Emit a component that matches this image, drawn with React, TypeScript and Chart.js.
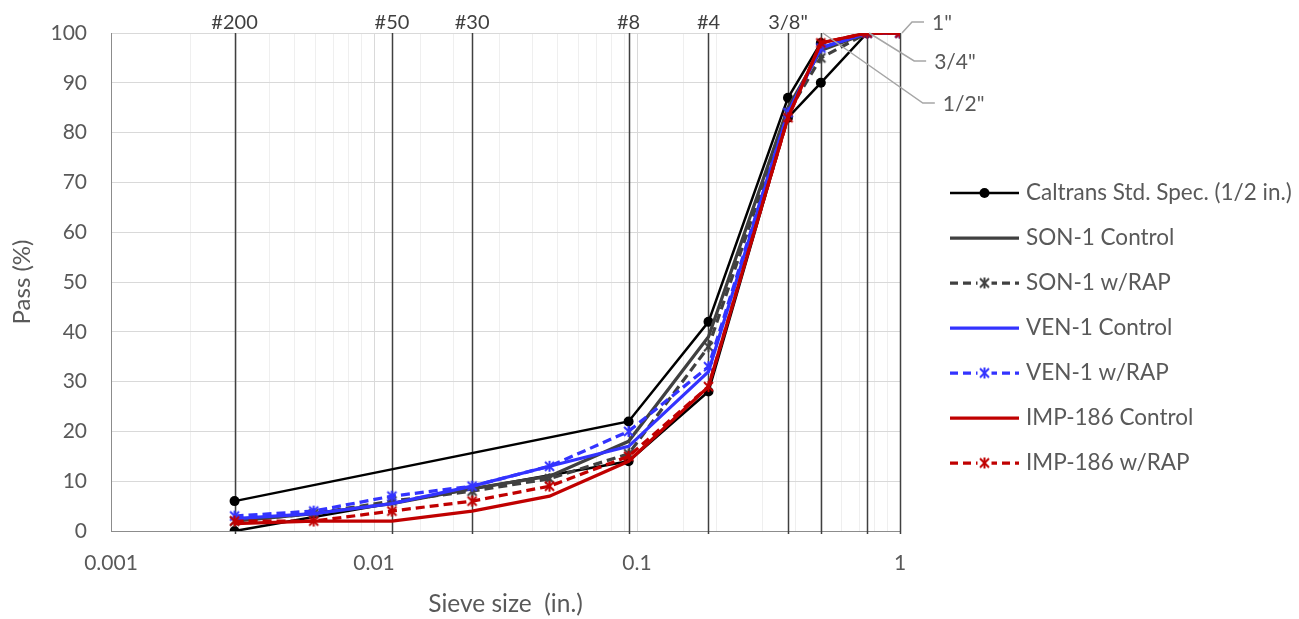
import React, { useEffect, useRef } from 'react';
import { Chart, registerables } from 'chart.js';

Chart.register(...registerables);

// Sieve openings (in.) for the gradation points
const sieveSizes = [0.00295, 0.0059, 0.0117, 0.0236, 0.0465, 0.0929, 0.187, 0.375, 0.5, 0.75, 1];
const sonControl = [2, 3.5, 5.5, 8.5, 11, 18, 39, 85, 96.5, 100, 100];
const sonRap = [2, 3.5, 6, 8, 10.5, 15.5, 37, 84, 95, 100, 100];
const venControl = [2.5, 3.5, 5.5, 9, 13, 17, 32, 84, 97, 100, 100];
const venRap = [3, 4, 7, 9, 13, 20, 33, 84, 97, 100, 100];
const impControl = [1.5, 2, 2, 4, 7, 14, 29, 83, 98, 100, 100];
const impRap = [2, 2, 4, 6, 9, 15, 29, 83, 98, 100, 100];

// Caltrans spec band
const specSizes = [0.00295, 0.0929, 0.187, 0.375, 0.5, 0.75];
const specLower = [0, 14, 28, 83, 90, 100];
const specUpper = [6, 22, 42, 87, 98, 100];

// Reference sieve lines and labels
const refSieves = [0.00295, 0.0117, 0.0236, 0.0929, 0.187, 0.375, 0.5, 0.75, 1];
const refTopLabels = ['#200', '#50', '#30', '#8', '#4', '3/8"', '', '', ''];
const calloutSieves = [1, 0.75, 0.5];
const calloutLabels = ['1"', '3/4"', '1/2"'];

const yTicks = [0, 10, 20, 30, 40, 50, 60, 70, 80, 90, 100];

const FONT = 'Lato, "Open Sans", sans-serif';
const TEXT = '#595959';

function makeStar(color: string): HTMLCanvasElement {
  const c = document.createElement('canvas');
  c.width = 13;
  c.height = 13;
  const g = c.getContext('2d')!;
  g.strokeStyle = color;
  g.lineWidth = 2;
  g.beginPath();
  g.moveTo(2, 2); g.lineTo(11, 11);
  g.moveTo(11, 2); g.lineTo(2, 11);
  g.moveTo(6.5, 1); g.lineTo(6.5, 12);
  g.stroke();
  return c;
}

const isMajor = (v: number) => Math.abs(Math.log10(v) - Math.round(Math.log10(v))) < 1e-6;

export default function App() {
  const ref = useRef<HTMLCanvasElement>(null);
  useEffect(() => {
    const canvas = ref.current!;
    const starGray = makeStar('#404040');
    const starBlue = makeStar('#3333ff');
    const starRed = makeStar('#c00000');
    const pts = (xs: number[], ys: number[]) => xs.map((x, i) => ({ x, y: ys[i] }));

    const series = [
      { label: 'Caltrans Std. Spec. (1/2 in.)', data: pts(specSizes, specUpper), color: '#000000', dash: [], marker: 'circle', width: 2.5, legend: true },
      { label: 'Caltrans lower', data: pts(specSizes, specLower), color: '#000000', dash: [], marker: 'circle', width: 2.5, legend: false },
      { label: 'SON-1 Control', data: pts(sieveSizes, sonControl), color: '#404040', dash: [], marker: null, width: 3.25, legend: true },
      { label: 'SON-1 w/RAP', data: pts(sieveSizes, sonRap), color: '#404040', dash: [9, 5], marker: starGray, width: 3.25, legend: true },
      { label: 'VEN-1 Control', data: pts(sieveSizes, venControl), color: '#3333ff', dash: [], marker: null, width: 3.25, legend: true },
      { label: 'VEN-1 w/RAP', data: pts(sieveSizes, venRap), color: '#3333ff', dash: [9, 5], marker: starBlue, width: 3.25, legend: true },
      { label: 'IMP-186 Control', data: pts(sieveSizes, impControl), color: '#c00000', dash: [], marker: null, width: 3.25, legend: true },
      { label: 'IMP-186 w/RAP', data: pts(sieveSizes, impRap), color: '#c00000', dash: [9, 5], marker: starRed, width: 3.25, legend: true },
    ];

    const datasets = series.map((s, i) => ({
      label: s.label,
      data: s.data,
      borderColor: s.color,
      backgroundColor: s.color,
      borderWidth: s.width,
      borderDash: s.dash,
      pointStyle: s.marker || 'circle',
      pointRadius: s.marker ? (s.marker === 'circle' ? 5 : 6) : 0,
      pointBorderWidth: 0,
      tension: 0,
      order: series.length - i,
    }));

    const overlay = {
      id: 'overlay',
      beforeDatasetsDraw(chart: any) {
        const { ctx, chartArea, scales } = chart;
        const xs = scales.x;
        ctx.save();
        ctx.strokeStyle = '#404040';
        ctx.lineWidth = 1.5;
        refSieves.forEach((v) => {
          const x = Math.round(xs.getPixelForValue(v)) + 0.5;
          ctx.beginPath();
          ctx.moveTo(x, chartArea.top);
          ctx.lineTo(x, chartArea.bottom + 3);
          ctx.stroke();
        });
        ctx.restore();
      },
      afterDraw(chart: any) {
        const { ctx, chartArea, scales } = chart;
        const xs = scales.x;
        const ys = scales.y;
        ctx.save();
        // top sieve labels
        ctx.font = `20px ${FONT}`;
        ctx.fillStyle = '#404040';
        ctx.textAlign = 'center';
        ctx.textBaseline = 'middle';
        refSieves.forEach((v, i) => {
          if (!refTopLabels[i]) return;
          ctx.fillText(refTopLabels[i], xs.getPixelForValue(v), chartArea.top - 10);
        });
        // callouts
        const offsets = [
          { dx: 12, dy: -11, len: 12 },
          { dx: 47, dy: 28, len: 12 },
          { dx: 102, dy: 70, len: 12 },
        ];
        ctx.strokeStyle = '#a6a6a6';
        ctx.lineWidth = 1.5;
        ctx.font = `21px ${FONT}`;
        ctx.fillStyle = TEXT;
        ctx.textAlign = 'left';
        calloutSieves.forEach((v, i) => {
          const px = xs.getPixelForValue(v);
          const py = ys.getPixelForValue(100);
          const o = offsets[i];
          ctx.beginPath();
          ctx.moveTo(px + 2, py);
          ctx.lineTo(px + o.dx, py + o.dy);
          ctx.lineTo(px + o.dx + o.len, py + o.dy);
          ctx.stroke();
          ctx.fillText(calloutLabels[i], px + o.dx + o.len + 8, py + o.dy + 1);
        });
        // legend
        const lx0 = 950, lx1 = 1019, ly0 = 193, step = 45;
        let row = 0;
        series.forEach((s) => {
          if (!s.legend) return;
          const y = ly0 + row * step;
          ctx.strokeStyle = s.color;
          ctx.lineWidth = s.width;
          ctx.setLineDash(s.dash.length ? [8, 5] : []);
          ctx.beginPath();
          ctx.moveTo(lx0, y);
          ctx.lineTo(lx1, y);
          ctx.stroke();
          ctx.setLineDash([]);
          const cx = (lx0 + lx1) / 2;
          if (s.marker === 'circle') {
            ctx.fillStyle = s.color;
            ctx.beginPath();
            ctx.arc(cx, y, 5, 0, Math.PI * 2);
            ctx.fill();
          } else if (s.marker) {
            ctx.fillStyle = '#ffffff';
            ctx.fillRect(cx - 7, y - 4, 14, 8);
            ctx.drawImage(s.marker as HTMLCanvasElement, cx - 6.5, y - 6.5);
          }
          ctx.fillStyle = TEXT;
          ctx.font = `22.5px ${FONT}`;
          ctx.textAlign = 'left';
          ctx.textBaseline = 'middle';
          ctx.fillText(s.label, 1026, y);
          row++;
        });
        ctx.restore();
      },
    };

    const chart = new Chart(canvas, {
      type: 'line',
      data: { datasets } as any,
      options: {
        animation: false,
        responsive: true,
        maintainAspectRatio: false,
        layout: { padding: { top: 33, right: 399, left: 0, bottom: 0 } },
        plugins: { legend: { display: false }, tooltip: { enabled: false } },
        scales: {
          x: {
            type: 'logarithmic',
            min: 0.001,
            max: 1,
            afterFit: (s: any) => { s.height = 88; },
            border: { color: '#8c8c8c', width: 1 },
            grid: {
              drawTicks: false,
              color: (c: any) => (c.tick && isMajor(c.tick.value) ? '#d9d9d9' : '#efefef'),
              lineWidth: 1,
            },
            ticks: {
              autoSkip: false,
              maxRotation: 0,
              padding: 20,
              color: TEXT,
              font: { family: FONT, size: 21 },
              callback: (v: any) => (isMajor(Number(v)) ? String(Number(v)) : ''),
            },
            title: {
              display: true,
              text: 'Sieve size  (in.)',
              color: TEXT,
              font: { family: FONT, size: 24.5 },
              padding: { top: 0, bottom: 0 },
            },
          },
          y: {
            min: 0,
            max: 100,
            afterFit: (s: any) => { s.width = 111; },
            afterBuildTicks: (s: any) => { s.ticks = yTicks.map((v) => ({ value: v })); },
            border: { color: '#8c8c8c', width: 1 },
            grid: { drawTicks: true, tickLength: 16, tickColor: 'rgba(0,0,0,0)', color: '#d9d9d9', lineWidth: 1 },
            ticks: {
              padding: 8,
              color: TEXT,
              font: { family: FONT, size: 21 },
            },
            title: {
              display: true,
              text: 'Pass (%)',
              color: TEXT,
              font: { family: FONT, size: 24 },
              padding: { top: 8, bottom: 0 },
            },
          },
        },
      },
      plugins: [overlay],
    } as any);
    return () => chart.destroy();
  }, []);

  return (
    <div style={{ position: 'fixed', left: 0, top: 0, width: 1299, height: 619, background: '#fff' }}>
      <canvas ref={ref} />
    </div>
  );
}
